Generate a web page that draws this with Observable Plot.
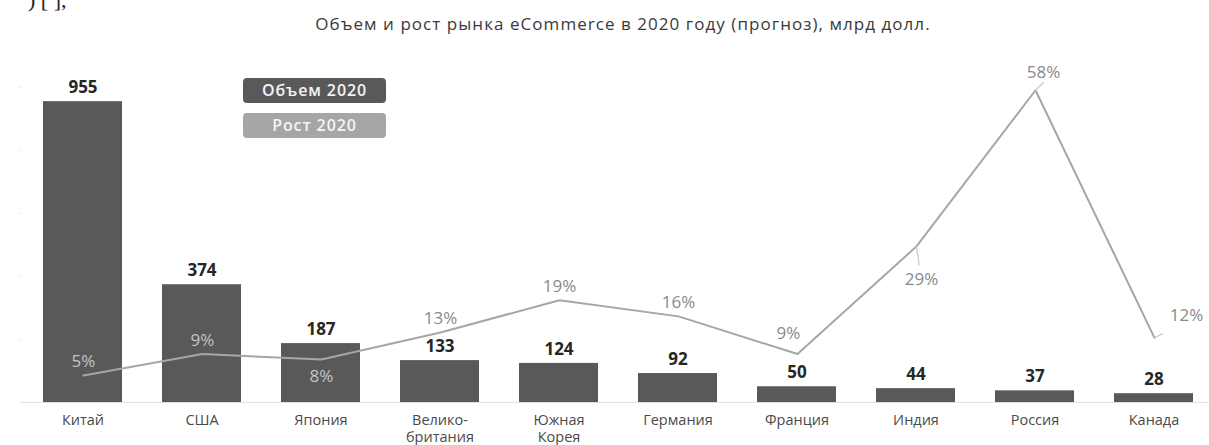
<!DOCTYPE html>
<html>
<head>
<meta charset="utf-8">
<script src="https://cdn.jsdelivr.net/npm/d3@7"></script>
<script src="https://cdn.jsdelivr.net/npm/@observablehq/plot@0.6"></script>
<style>
  body { margin: 0; background: #fff; font-family: "Open Sans", sans-serif; }
  #wrap { position: relative; width: 1209px; height: 445px; overflow: hidden; }
  #frag { position: absolute; left: 28px; top: -13px; font: 22px "Liberation Serif", serif; color: #222; }
  #title { position: absolute; left: 0; top: 13px; width: 1246px; text-align: center; font-size: 17px; letter-spacing: 1.05px; line-height: 22px; color: #3a3a3a; font-weight: 500; }
  #plots { position: absolute; left: 0; top: 60px; width: 1209px; height: 385px; }
  #plots svg { position: absolute; left: 0; top: 0; }
  .leg { position: absolute; left: 243px; width: 143px; height: 25px; border-radius: 4px; color: #f4f4f4;
         font-size: 16px; letter-spacing: 0.9px; font-weight: 600; text-align: center; line-height: 25px; }
</style>
</head>
<body>
<div id="wrap">
  <div id="frag">) [ ],</div>
  <div id="title">Объем и рост рынка eCommerce в 2020 году (прогноз), млрд долл.</div>
  <div id="plots"></div>
  <div class="leg" style="top:78px;background:#595959;">Объем 2020</div>
  <div class="leg" style="top:113px;background:#a6a6a6;">Рост 2020</div>
</div>
<script>
const countries = ["Китай", "США", "Япония", "Велико-\nбритания", "Южная\nКорея", "Германия", "Франция", "Индия", "Россия", "Канада"];
const volume = [955, 374, 187, 133, 124, 92, 50, 44, 37, 28];
const growth = [5, 9, 8, 13, 19, 16, 9, 29, 58, 12];

const data = countries.map((c, i) => ({country: c, volume: volume[i], growth: growth[i]}));

const W = 1209, H = 385;
const xScale = {domain: countries, range: [20, 1216], paddingInner: 0.335, paddingOuter: 0.167};

const bars = Plot.plot({
  width: W, height: H,
  marginTop: 27, marginBottom: 43, marginLeft: 20, marginRight: 0,
  style: {fontFamily: "Open Sans, sans-serif", background: "transparent", overflow: "visible"},
  x: xScale,
  y: {domain: [0, 1000]},
  marks: [
    Plot.ruleY([0], {stroke: "#e0e0e0", strokeWidth: 1}),
    Plot.axisY([200, 400, 600, 800, 1000], {tickSize: 2, stroke: "#e6e6e6", tickFormat: () => "", label: null}),
    Plot.barY(data, {x: "country", y: "volume", fill: "#595959"}),
    Plot.text(data, {x: "country", y: "volume", text: d => String(d.volume), dy: -14,
      fill: "#262626", fontSize: 17, fontWeight: "bold"}),
    Plot.axisX({tickSize: 0, tickPadding: 10, fontSize: 14.5, fill: "#4a4a4a", label: null, lineHeight: 1.2})
  ]
});

const below = new Set(["Япония", "Индия"]);
const onBar = new Set(["Китай", "США", "Япония"]);
const leader = {draw(ctx, l) { ctx.moveTo(0, 0); ctx.lineTo(0, -l); }};

const line = Plot.plot({
  width: W, height: H,
  marginTop: 19, marginBottom: 43, marginLeft: 20, marginRight: 0,
  style: {fontFamily: "Open Sans, sans-serif", background: "transparent", overflow: "visible"},
  x: {...xScale, axis: null},
  y: {domain: [0, 60], axis: null},
  marks: [
    Plot.lineY(data, {x: "country", y: "growth", stroke: "#a6a6a6", strokeWidth: 2}),
    Plot.vector(data.filter(d => d.country === "Индия"), {x: "country", y: "growth", length: 19, rotate: 172, anchor: "start", shape: leader, stroke: "#c8c8c8", strokeWidth: 1.2}),
    Plot.vector(data.filter(d => d.country === "Россия"), {x: "country", y: "growth", length: 11, rotate: 45, anchor: "start", shape: leader, stroke: "#c8c8c8", strokeWidth: 1.2}),
    Plot.vector(data.filter(d => d.country === "Канада"), {x: "country", y: "growth", length: 9, rotate: 62, anchor: "start", shape: leader, stroke: "#c8c8c8", strokeWidth: 1.2}),
    Plot.text(data.filter(d => !below.has(d.country) && !["Франция", "Россия", "Канада"].includes(d.country)),
      {x: "country", y: "growth", text: d => d.growth + "%", dy: -14, fontSize: 17,
       fill: d => onBar.has(d.country) ? "#c4c4c4" : "#8a8a8a"}),
    Plot.text(data.filter(d => d.country === "Япония"),
      {x: "country", y: "growth", text: d => d.growth + "%", dy: 17, fontSize: 17, fill: "#c4c4c4"}),
    Plot.text(data.filter(d => d.country === "Индия"),
      {x: "country", y: "growth", text: d => d.growth + "%", dx: 5, dy: 33, fontSize: 17, fill: "#8a8a8a"}),
    Plot.text(data.filter(d => d.country === "Франция"),
      {x: "country", y: "growth", text: d => d.growth + "%", dx: -9, dy: -21, fontSize: 17, fill: "#8a8a8a"}),
    Plot.text(data.filter(d => d.country === "Россия"),
      {x: "country", y: "growth", text: d => d.growth + "%", dx: 8, dy: -18, fontSize: 17, fill: "#8a8a8a"}),
    Plot.text(data.filter(d => d.country === "Канада"),
      {x: "country", y: "growth", text: d => d.growth + "%", dx: 32, dy: -22, fontSize: 17, fill: "#8a8a8a"})
  ]
});

document.getElementById("plots").append(bars, line);
</script>
</body>
</html>
